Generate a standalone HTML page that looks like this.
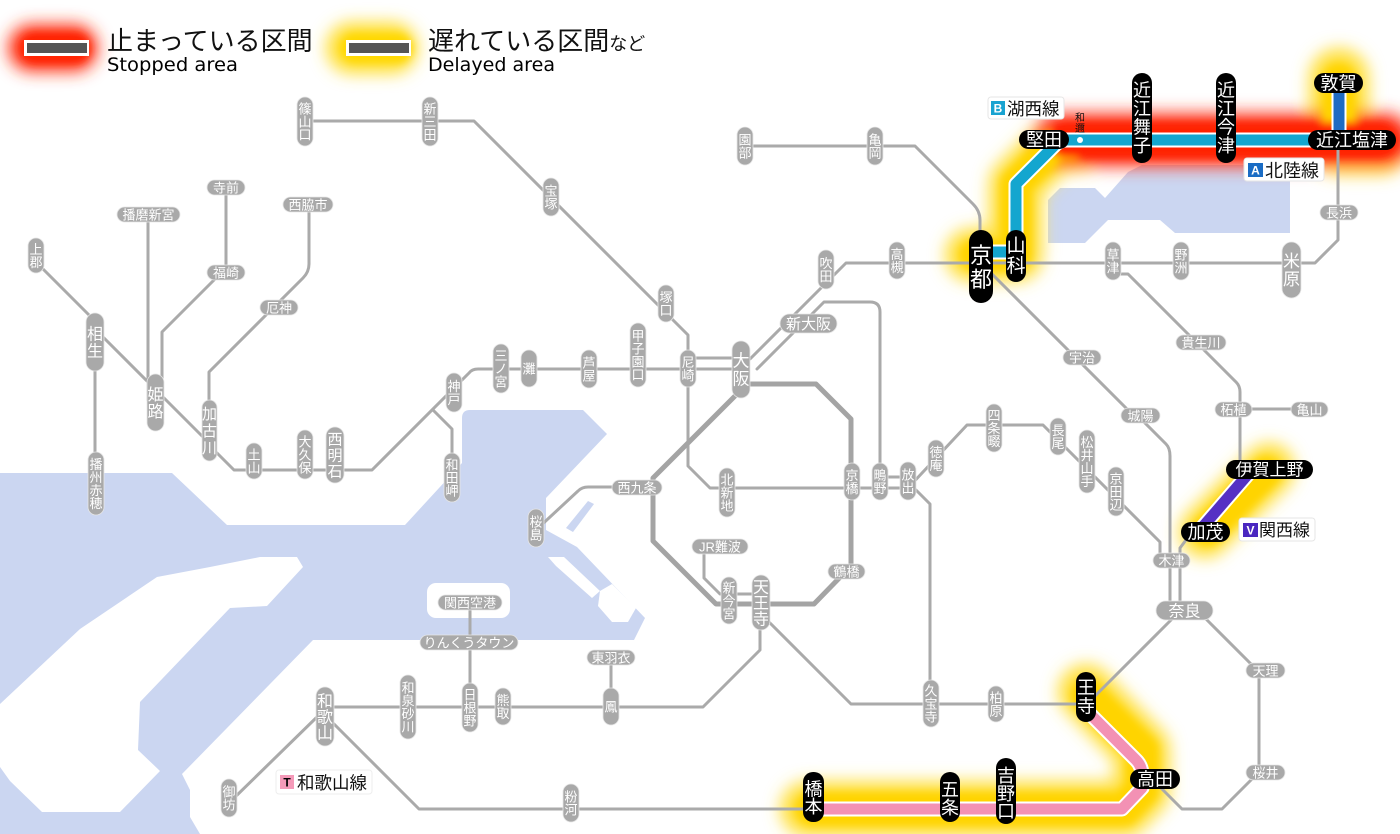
<!DOCTYPE html>
<html><head><meta charset="utf-8">
<style>
html,body{margin:0;padding:0;background:#fff;}
svg{display:block}
.g{fill:none;stroke:#aaa;stroke-width:3;stroke-linejoin:round;stroke-linecap:round}
.gp{fill:#a9a9a9;stroke:#e6e6e6;stroke-width:0.8}
.bp{fill:#000}
.t{font-family:"Liberation Sans","Noto Sans CJK JP",sans-serif;fill:#fff;text-anchor:middle}
.s{font-size:13px}
.k{font-family:"Liberation Sans","Noto Sans CJK JP",sans-serif;fill:#111}
</style></head><body>
<svg width="1400" height="834" viewBox="0 0 1400 834" xmlns="http://www.w3.org/2000/svg">
<defs>
<filter id="bl" filterUnits="userSpaceOnUse" x="0" y="0" width="1400" height="834"><feGaussianBlur stdDeviation="8"/></filter>
<filter id="bl2" filterUnits="userSpaceOnUse" x="0" y="0" width="1400" height="834"><feGaussianBlur stdDeviation="4"/></filter>
</defs>

<!-- sea -->
<path fill="#cbd6f1" d="M0,473 H172 L227,525 H405 L462,463 V418 Q462,410 470,410 H583 L607,434 L546,498 V530 L577,547 L645,618 L634,640 H313 L182,774 L190,790 V817 L200,834 H0 Z"/>
<path fill="#fff" d="M210,567 L260,557 H297 L303,567 L267,606 L230,608 L140,702 L138,750 L160,771 L120,812 H42 L10,781 L0,767 V704 L80,629 L157,577 Z"/>
<path fill="#fff" d="M548,557 H564 L600,591 L592,598 L556,566 Z"/>
<path fill="#fff" d="M600,591 L612,584 L636,608 L628,622 H612 L598,606 Z"/>
<path fill="#cbd6f1" d="M566,528 L588,501 L594,504 L573,532 Z"/>
<rect x="427" y="583" width="83" height="35" rx="9" fill="#fff"/>
<!-- lake -->
<path fill="#cbd6f1" d="M1048,243 V200 L1060,188 H1095 L1105,198 L1128,172 L1142,165 H1290 V233 H1175 L1160,220 H1108 L1085,243 Z"/>

<!-- legend glows -->
<rect x="8" y="24" width="90" height="48" rx="24" fill="#ff3a1a" filter="url(#bl)"/>
<rect x="20" y="33" width="70" height="30" rx="15" fill="#ff2000" filter="url(#bl2)"/>
<rect x="326" y="22" width="92" height="52" rx="26" fill="#ffe03a" filter="url(#bl)"/>
<rect x="340" y="33" width="72" height="30" rx="15" fill="#ffd800" filter="url(#bl2)"/>
<rect x="24" y="40" width="65" height="16" fill="#fff"/><rect x="27" y="43" width="60" height="10" fill="#555"/>
<rect x="346" y="40" width="65" height="16" fill="#fff"/><rect x="349" y="43" width="60" height="10" fill="#555"/>
<text class="k" x="107" y="50" font-size="26" fill="#000">止まっている区間</text>
<text x="107" y="71" font-size="19" font-family="DejaVu Sans, sans-serif" fill="#000" textLength="131" lengthAdjust="spacingAndGlyphs">Stopped area</text>
<text class="k" x="428" y="50" font-size="26" fill="#000">遅れている区間<tspan font-size="18">など</tspan></text>
<text x="428" y="71" font-size="19" font-family="DejaVu Sans, sans-serif" fill="#000" textLength="127" lengthAdjust="spacingAndGlyphs">Delayed area</text>

<!-- map glows -->
<g filter="url(#bl)" fill="none" stroke-linecap="round" stroke-linejoin="round">
<path stroke="#ffe040" stroke-width="54" d="M972,255 H1016 V184 L1055,145 H1078"/>
<path stroke="#ffe040" stroke-width="60" d="M1339,78 V145 H1380"/>
<path stroke="#ffe040" stroke-width="52" d="M1269,469 L1205,532"/>
<path stroke="#ffe040" stroke-width="56" d="M1086,692 L1142,750 V790 L1124,809 H808"/>
<path stroke="#ff3a20" stroke-width="54" d="M1060,140 H1385"/>
</g>
<g filter="url(#bl2)" fill="none" stroke-linecap="round" stroke-linejoin="round">
<path stroke="#ffd400" stroke-width="32" d="M975,255 H1016 V184 L1055,145 H1070"/>
<path stroke="#ffd400" stroke-width="34" d="M1339,80 V140"/>
<path stroke="#ffd400" stroke-width="32" d="M1266,472 L1208,530"/>
<path stroke="#ffd400" stroke-width="34" d="M1088,696 L1142,750 V790 L1124,809 H812"/>
<path stroke="#ff2400" stroke-width="36" d="M1066,140 H1380"/>
</g>

<!-- gray lines -->
<g class="g">
<path d="M305,121 H474 L664,311 L688,335 V466 L710,488 H908"/>
<path d="M36,262 L93,319 L100,334 L150,384 L160,394 L206,440 L212,448 L234,470 H372 L469,373 Q472,369 478,369 H741"/>
<path d="M696,358 H732"/>
<path d="M95,342 V483"/>
<path d="M148,214 V400"/>
<path d="M162,400 V332 L216,278"/>
<path d="M226,272 V187"/>
<path d="M209,430 V372 L303,278 Q309,272 309,264 V204"/>
<path d="M433,410 L452,429 V478"/>
<path d="M745,146 H915 L973,204 Q980,211 980,220 V240"/>
<path d="M993,263 H1315 L1338,240 V150"/>
<path d="M975,263 H846 L826,283 L750,359"/>
<path d="M757,369 L824,302 H870 Q880,302 880,312 V482"/>
<path d="M880,477 H908"/>
<path d="M908,488 L967,425 H1043 L1160,542 V560"/>
<path d="M916,490 L930,504 V703"/>
<path d="M765,618 L851,704 H1086"/>
<path d="M760,630 V650 L703,707 H325"/>
<path d="M611,657 V707"/>
<path d="M470,602 V707"/>
<path d="M318,716 L232,800"/>
<path d="M332,722 L419,809 H813"/>
<path d="M637,487 H588 Q582,487 578,491 L536,530"/>
<path d="M704,547 V578 L720,594 H761"/>
<path d="M990,272 L1128,410 L1140,418 L1166,444 Q1170,448 1170,456 V605"/>
<path d="M1186,540 L1180,548 V605"/>
<path d="M1172,619 L1093,698"/>
<path d="M1206,619 L1259,672 V772 L1222,809 H1182 L1160,787"/>
<path d="M1113,268 L1120,274 H1128 L1195,341 L1236,382 Q1240,386 1240,392 V469"/>
<path d="M1233,409 H1310"/>
</g>
<path d="M741,384 H816 L851,419 V566 L814,604 H716 L653,541 V478 L738,393" fill="none" stroke="#a4a4a4" stroke-width="5" stroke-linejoin="round"/>

<!-- colored lines -->
<g fill="none" stroke-linejoin="round">
<path d="M981,252 H1016 V184 L1055,145 Q1060,140 1067,140 H1352" stroke="#fff" stroke-width="15"/>
<path d="M981,252 H1016 V184 L1055,145 Q1060,140 1067,140 H1352" stroke="#14a6cf" stroke-width="11"/>
<path d="M1339,83 V140" stroke="#fff" stroke-width="15"/>
<path d="M1339,83 V140" stroke="#1f6bc2" stroke-width="11"/>
<path d="M1250,472 L1200,530" stroke="#fff" stroke-width="15"/>
<path d="M1250,472 L1200,530" stroke="#5530c4" stroke-width="11"/>
<path d="M1088,712 L1136,760 Q1142,766 1142,775 V788 L1122,809 H820" stroke="#fff" stroke-width="15"/>
<path d="M1088,712 L1136,760 Q1142,766 1142,775 V788 L1122,809 H820" stroke="#f391b4" stroke-width="11"/>
</g>
<circle cx="1080" cy="140" r="3" fill="#fff"/>
<text class="k" font-size="10" text-anchor="middle"><tspan x="1080" y="121">和</tspan><tspan x="1080" y="132">邇</tspan></text>

<!-- gray vertical pills -->
<g class="gp">
<rect x="297" y="97" width="16" height="49" rx="8"/>
<rect x="422" y="97" width="16" height="49" rx="8"/>
<rect x="543" y="178" width="16" height="38" rx="8"/>
<rect x="28" y="238" width="16" height="35" rx="8"/>
<rect x="88" y="452" width="16" height="63" rx="8"/>
<rect x="246" y="443" width="16" height="36" rx="8"/>
<rect x="297" y="430" width="16" height="49" rx="8"/>
<rect x="446" y="373" width="16" height="39" rx="8"/>
<rect x="444" y="453" width="16" height="49" rx="8"/>
<rect x="493" y="344" width="16" height="49" rx="8"/>
<rect x="521" y="350" width="16" height="37" rx="8"/>
<rect x="581" y="350" width="16" height="38" rx="8"/>
<rect x="630" y="323" width="16" height="64" rx="8"/>
<rect x="658" y="285" width="16" height="37" rx="8"/>
<rect x="680" y="350" width="16" height="37" rx="8"/>
<rect x="719" y="468" width="16" height="49" rx="8"/>
<rect x="844" y="463" width="16" height="37" rx="8"/>
<rect x="872" y="463" width="16" height="37" rx="8"/>
<rect x="900" y="462" width="16" height="38" rx="8"/>
<rect x="928" y="440" width="16" height="37" rx="8"/>
<rect x="986" y="404" width="16" height="48" rx="8"/>
<rect x="1050" y="418" width="16" height="37" rx="8"/>
<rect x="1079" y="430" width="16" height="63" rx="8"/>
<rect x="1108" y="467" width="16" height="49" rx="8"/>
<rect x="818" y="250" width="16" height="39" rx="8"/>
<rect x="889" y="242" width="16" height="37" rx="8"/>
<rect x="737" y="127" width="16" height="38" rx="8"/>
<rect x="867" y="127" width="16" height="38" rx="8"/>
<rect x="1105" y="242" width="16" height="38" rx="8"/>
<rect x="1173" y="242" width="16" height="38" rx="8"/>
<rect x="721" y="577" width="16" height="47" rx="8"/>
<rect x="923" y="680" width="16" height="47" rx="8"/>
<rect x="988" y="686" width="16" height="36" rx="8"/>
<rect x="400" y="675" width="16" height="64" rx="8"/>
<rect x="462" y="683" width="16" height="49" rx="8"/>
<rect x="495" y="688" width="16" height="37" rx="8"/>
<rect x="603" y="688" width="16" height="37" rx="8"/>
<rect x="221" y="779" width="16" height="38" rx="8"/>
<rect x="563" y="784" width="16" height="38" rx="8"/>
<rect x="528" y="509" width="16" height="38" rx="8"/>
<rect x="86" y="313" width="18" height="58" rx="9"/>
<rect x="147" y="374" width="17" height="57" rx="8.5"/>
<rect x="202" y="400" width="15" height="61" rx="7.5"/>
<rect x="326" y="427" width="18" height="56" rx="9"/>
<rect x="732" y="341" width="18" height="57" rx="9"/>
<rect x="1282" y="242" width="19" height="56" rx="9.5"/>
<rect x="752" y="575" width="18" height="55" rx="9"/>
<rect x="316" y="687" width="18" height="59" rx="9"/>
<!-- horizontal -->
<rect x="207" y="180" width="38" height="15" rx="7.5"/>
<rect x="117" y="207" width="63" height="15" rx="7.5"/>
<rect x="283" y="197" width="50" height="15" rx="7.5"/>
<rect x="207" y="265" width="38" height="15" rx="7.5"/>
<rect x="260" y="300" width="38" height="15" rx="7.5"/>
<rect x="612" y="480" width="50" height="15" rx="7.5"/>
<rect x="692" y="539" width="56" height="15" rx="7.5"/>
<rect x="828" y="564" width="37" height="15" rx="7.5"/>
<rect x="1063" y="350" width="38" height="15" rx="7.5"/>
<rect x="1121" y="408" width="39" height="15" rx="7.5"/>
<rect x="1176" y="335" width="50" height="15" rx="7.5"/>
<rect x="1215" y="402" width="37" height="15" rx="7.5"/>
<rect x="1291" y="402" width="37" height="15" rx="7.5"/>
<rect x="1320" y="205" width="38" height="15" rx="7.5"/>
<rect x="1153" y="553" width="37" height="15" rx="7.5"/>
<rect x="1246" y="663" width="39" height="15" rx="7.5"/>
<rect x="1246" y="765" width="39" height="15" rx="7.5"/>
<rect x="438" y="595" width="64" height="15" rx="7.5"/>
<rect x="420" y="635" width="98" height="15" rx="7.5"/>
<rect x="587" y="650" width="48" height="15" rx="7.5"/>
<rect x="780" y="314" width="57" height="19" rx="9.5"/>
<rect x="1156" y="601" width="57" height="19" rx="9.5"/>
</g>

<!-- gray pill texts -->
<g class="t s">
<text><tspan x="305" y="113.5">篠</tspan><tspan x="305" y="126.5">山</tspan><tspan x="305" y="139.5">口</tspan></text>
<text><tspan x="430" y="113.5">新</tspan><tspan x="430" y="126.5">三</tspan><tspan x="430" y="139.5">田</tspan></text>
<text><tspan x="551" y="195.5">宝</tspan><tspan x="551" y="208.5">塚</tspan></text>
<text><tspan x="36" y="254">上</tspan><tspan x="36" y="267">郡</tspan></text>
<text><tspan x="96" y="469">播</tspan><tspan x="96" y="482">州</tspan><tspan x="96" y="495">赤</tspan><tspan x="96" y="508">穂</tspan></text>
<text><tspan x="254" y="459.5">土</tspan><tspan x="254" y="472.5">山</tspan></text>
<text><tspan x="305" y="446.5">大</tspan><tspan x="305" y="459.5">久</tspan><tspan x="305" y="472.5">保</tspan></text>
<text><tspan x="454" y="391">神</tspan><tspan x="454" y="404">戸</tspan></text>
<text><tspan x="452" y="469.5">和</tspan><tspan x="452" y="482.5">田</tspan><tspan x="452" y="495.5">岬</tspan></text>
<text><tspan x="501" y="360.5">三</tspan><tspan x="501" y="373.5">ノ</tspan><tspan x="501" y="386.5">宮</tspan></text>
<text><tspan x="529" y="373.5">灘</tspan></text>
<text><tspan x="589" y="367.5">芦</tspan><tspan x="589" y="380.5">屋</tspan></text>
<text><tspan x="638" y="340.5">甲</tspan><tspan x="638" y="353.5">子</tspan><tspan x="638" y="366.5">園</tspan><tspan x="638" y="379.5">口</tspan></text>
<text><tspan x="666" y="302">塚</tspan><tspan x="666" y="315">口</tspan></text>
<text><tspan x="688" y="367">尼</tspan><tspan x="688" y="380">崎</tspan></text>
<text><tspan x="727" y="484.5">北</tspan><tspan x="727" y="497.5">新</tspan><tspan x="727" y="510.5">地</tspan></text>
<text><tspan x="852" y="480">京</tspan><tspan x="852" y="493">橋</tspan></text>
<text><tspan x="880" y="480">鴫</tspan><tspan x="880" y="493">野</tspan></text>
<text><tspan x="908" y="479.5">放</tspan><tspan x="908" y="492.5">出</tspan></text>
<text><tspan x="936" y="457">徳</tspan><tspan x="936" y="470">庵</tspan></text>
<text><tspan x="994" y="420">四</tspan><tspan x="994" y="433">条</tspan><tspan x="994" y="446">畷</tspan></text>
<text><tspan x="1058" y="435">長</tspan><tspan x="1058" y="448">尾</tspan></text>
<text><tspan x="1087" y="447">松</tspan><tspan x="1087" y="460">井</tspan><tspan x="1087" y="473">山</tspan><tspan x="1087" y="486">手</tspan></text>
<text><tspan x="1116" y="483.5">京</tspan><tspan x="1116" y="496.5">田</tspan><tspan x="1116" y="509.5">辺</tspan></text>
<text><tspan x="826" y="268">吹</tspan><tspan x="826" y="281">田</tspan></text>
<text><tspan x="897" y="259">高</tspan><tspan x="897" y="272">槻</tspan></text>
<text><tspan x="745" y="144.5">園</tspan><tspan x="745" y="157.5">部</tspan></text>
<text><tspan x="875" y="144.5">亀</tspan><tspan x="875" y="157.5">岡</tspan></text>
<text><tspan x="1113" y="259.5">草</tspan><tspan x="1113" y="272.5">津</tspan></text>
<text><tspan x="1181" y="259.5">野</tspan><tspan x="1181" y="272.5">洲</tspan></text>
<text><tspan x="729" y="592.5">新</tspan><tspan x="729" y="605.5">今</tspan><tspan x="729" y="618.5">宮</tspan></text>
<text><tspan x="931" y="695.5">久</tspan><tspan x="931" y="708.5">宝</tspan><tspan x="931" y="721.5">寺</tspan></text>
<text><tspan x="996" y="702.5">柏</tspan><tspan x="996" y="715.5">原</tspan></text>
<text><tspan x="408" y="692.5">和</tspan><tspan x="408" y="705.5">泉</tspan><tspan x="408" y="718.5">砂</tspan><tspan x="408" y="731.5">川</tspan></text>
<text><tspan x="470" y="699.5">日</tspan><tspan x="470" y="712.5">根</tspan><tspan x="470" y="725.5">野</tspan></text>
<text><tspan x="503" y="705">熊</tspan><tspan x="503" y="718">取</tspan></text>
<text><tspan x="611" y="711.5">鳳</tspan></text>
<text><tspan x="229" y="796.5">御</tspan><tspan x="229" y="809.5">坊</tspan></text>
<text><tspan x="571" y="801.5">粉</tspan><tspan x="571" y="814.5">河</tspan></text>
<text><tspan x="536" y="526.5">桜</tspan><tspan x="536" y="539.5">島</tspan></text>
<text x="226" y="192.5">寺前</text>
<text x="148.5" y="219.5">播磨新宮</text>
<text x="308" y="209.5">西脇市</text>
<text x="226" y="277.5">福崎</text>
<text x="279" y="312.5">厄神</text>
<text x="637" y="492.5">西九条</text>
<text x="720" y="551.5">JR難波</text>
<text x="846.5" y="576.5">鶴橋</text>
<text x="1082" y="362.5">宇治</text>
<text x="1140.5" y="420.5">城陽</text>
<text x="1201" y="347.5">貴生川</text>
<text x="1233.5" y="414.5">柘植</text>
<text x="1309.5" y="414.5">亀山</text>
<text x="1339" y="217.5">長浜</text>
<text x="1171.5" y="565.5">木津</text>
<text x="1265.5" y="675.5">天理</text>
<text x="1265.5" y="777.5">桜井</text>
<text x="470" y="607.5">関西空港</text>
<text x="469" y="647.5">りんくうタウン</text>
<text x="611" y="662.5">東羽衣</text>
</g>
<g class="t">
<text font-size="16"><tspan x="95" y="339.5">相</tspan><tspan x="95" y="356.5">生</tspan></text>
<text font-size="16"><tspan x="155.5" y="400">姫</tspan><tspan x="155.5" y="417">路</tspan></text>
<text font-size="15"><tspan x="209.5" y="419">加</tspan><tspan x="209.5" y="436">古</tspan><tspan x="209.5" y="453">川</tspan></text>
<text font-size="15"><tspan x="335" y="444.5">西</tspan><tspan x="335" y="460.5">明</tspan><tspan x="335" y="476.5">石</tspan></text>
<text font-size="17"><tspan x="741" y="366.5">大</tspan><tspan x="741" y="384.5">阪</tspan></text>
<text font-size="17"><tspan x="1291.5" y="267">米</tspan><tspan x="1291.5" y="285">原</tspan></text>
<text font-size="16"><tspan x="761" y="592.5">天</tspan><tspan x="761" y="608.5">王</tspan><tspan x="761" y="624.5">寺</tspan></text>
<text font-size="16"><tspan x="325" y="706.5">和</tspan><tspan x="325" y="722.5">歌</tspan><tspan x="325" y="738.5">山</tspan></text>
<text font-size="15" x="808.5" y="329">新大阪</text>
<text font-size="16" x="1184.5" y="616.5">奈良</text>
</g>

<!-- black pills -->
<g class="bp">
<rect x="969" y="230" width="24" height="73" rx="12"/>
<rect x="1006" y="230" width="20" height="52" rx="10"/>
<rect x="1019" y="130" width="50" height="19" rx="9.5"/>
<rect x="1132" y="73" width="20" height="90" rx="10"/>
<rect x="1216" y="73" width="20" height="90" rx="10"/>
<rect x="1308" y="130" width="88" height="20" rx="10"/>
<rect x="1314" y="73" width="49" height="20" rx="10"/>
<rect x="1226" y="460" width="87" height="19" rx="9.5"/>
<rect x="1181" y="522" width="49" height="20" rx="10"/>
<rect x="1076" y="672" width="20" height="50" rx="10"/>
<rect x="1130" y="769" width="50" height="20" rx="10"/>
<rect x="996" y="758" width="20" height="66" rx="10"/>
<rect x="940" y="772" width="20" height="50" rx="10"/>
<rect x="803" y="772" width="21" height="50" rx="10"/>
</g>
<g class="t">
<text font-size="22"><tspan x="981" y="263">京</tspan><tspan x="981" y="287">都</tspan></text>
<text font-size="19"><tspan x="1016" y="252">山</tspan><tspan x="1016" y="272">科</tspan></text>
<text font-size="18" x="1044" y="146">堅田</text>
<text font-size="18"><tspan x="1142" y="96.5">近</tspan><tspan x="1142" y="115">江</tspan><tspan x="1142" y="133.5">舞</tspan><tspan x="1142" y="152">子</tspan></text>
<text font-size="18"><tspan x="1226" y="96.5">近</tspan><tspan x="1226" y="115">江</tspan><tspan x="1226" y="133.5">今</tspan><tspan x="1226" y="152">津</tspan></text>
<text font-size="18" x="1352" y="146.5">近江塩津</text>
<text font-size="18" x="1338.5" y="89.5">敦賀</text>
<text font-size="17" x="1269.5" y="475.5">伊賀上野</text>
<text font-size="18" x="1205.5" y="538.5">加茂</text>
<text font-size="18"><tspan x="1086" y="694">王</tspan><tspan x="1086" y="712.5">寺</tspan></text>
<text font-size="18" x="1155" y="785.5">高田</text>
<text font-size="18"><tspan x="1006" y="782">吉</tspan><tspan x="1006" y="800">野</tspan><tspan x="1006" y="817.5">口</tspan></text>
<text font-size="18"><tspan x="950" y="796">五</tspan><tspan x="950" y="814">条</tspan></text>
<text font-size="18"><tspan x="813.5" y="795.5">橋</tspan><tspan x="813.5" y="813">本</tspan></text>
</g>

<!-- line labels -->
<rect x="988" y="97" width="76" height="22" rx="3" fill="#fff" stroke="#e6e6e6"/>
<rect x="991" y="101" width="14" height="14" fill="#19a3d1"/>
<text class="t" x="998" y="112.5" font-size="12" font-weight="bold">B</text>
<text class="k" x="1007" y="115" font-size="17.5">湖西線</text>

<rect x="1244" y="158" width="80" height="23" rx="3" fill="#fff" stroke="#e6e6e6"/>
<rect x="1248" y="163" width="15" height="14" fill="#1a6cc4"/>
<text class="t" x="1255.5" y="174.5" font-size="12" font-weight="bold">A</text>
<text class="k" x="1265" y="177" font-size="18">北陸線</text>

<rect x="1239" y="518" width="76" height="23" rx="3" fill="#fff" stroke="#e6e6e6"/>
<rect x="1243" y="523" width="15" height="14" fill="#4a27c0"/>
<text class="t" x="1250.5" y="534.5" font-size="12" font-weight="bold">V</text>
<text class="k" x="1259" y="536" font-size="17">関西線</text>

<rect x="276" y="770" width="96" height="24" rx="3" fill="#fff" stroke="#eee"/>
<rect x="280" y="775" width="14" height="14" fill="#f59ab9"/>
<text x="287" y="786.5" font-size="12" font-weight="bold" text-anchor="middle" fill="#000" font-family="Liberation Sans, sans-serif">T</text>
<text class="k" x="297" y="789" font-size="17.5">和歌山線</text>
</svg>
</body></html>
